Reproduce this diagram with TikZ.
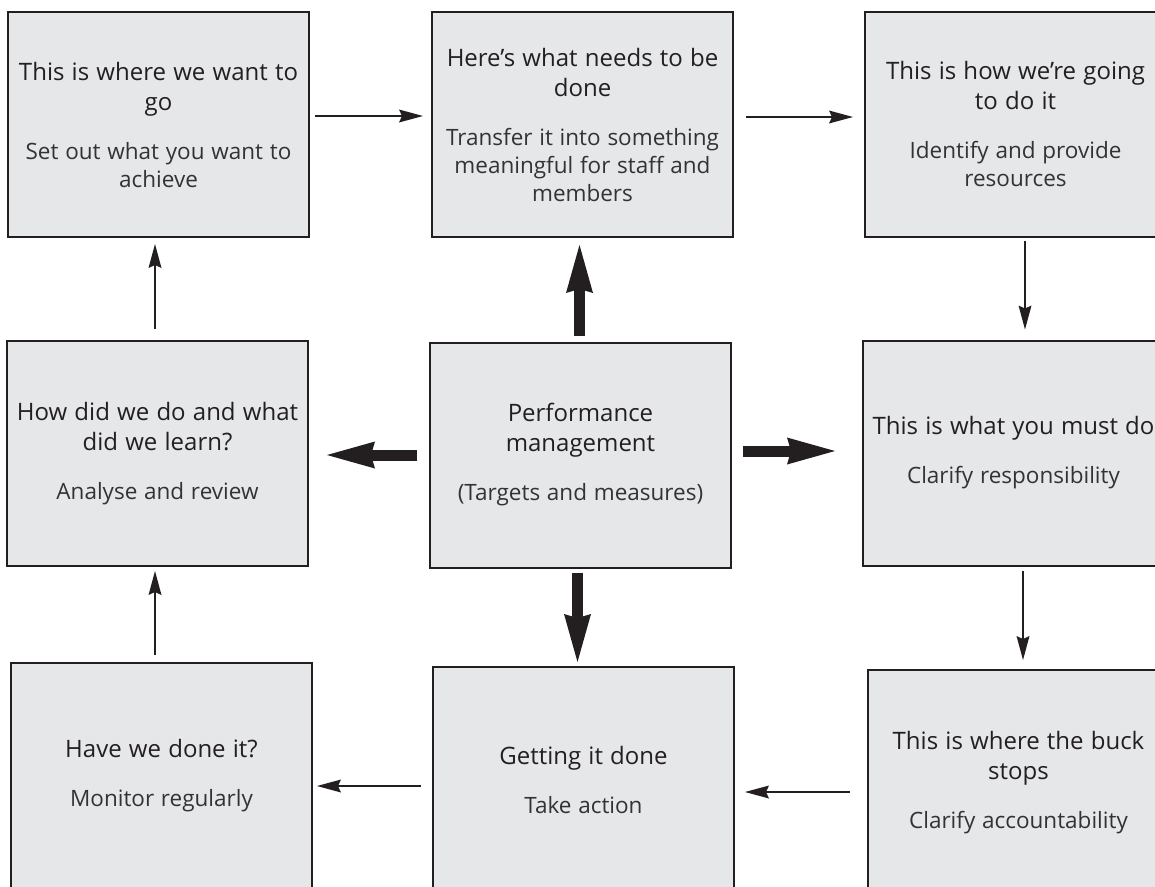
\documentclass[tikz,border=0pt]{standalone}
\usepackage{fontspec}
\setmainfont{Open Sans}
\usetikzlibrary{arrows.meta}
\definecolor{ink}{HTML}{231F20}
\definecolor{boxfill}{HTML}{E6E7E8}
\definecolor{subink}{HTML}{333333}
\newcommand{\ttl}{\fontsize{24}{30}\selectfont\spaceskip=0.3em\relax}
\newcommand{\sbt}{\fontsize{22.5}{28}\selectfont\spaceskip=0.3em\relax\noindent\color{subink}}
\newcommand{\gapv}{\par\vspace{21pt}}
\begin{document}
\begin{tikzpicture}[x=1pt,y=-1pt,
  box/.style={draw=ink, line width=2pt, fill=boxfill, text=ink,
    minimum width=301pt, minimum height=225pt, text width=297pt,
    align=center, inner sep=0pt, outer sep=0pt},
  thinarrow/.style={draw=ink, line width=2pt,
    -{Stealth[length=24pt,width=13pt,inset=3pt,line width=0pt]}},
  thickarrow/.style={draw=ink, line width=11pt,
    -{Stealth[length=48pt,width=27pt,inset=4pt,line width=0pt]}}
]
\useasboundingbox (0,0) rectangle (1155,886);
\clip (0,0) rectangle (1155,886);
\fill[white] (0,0) rectangle (1155,886);

\node[box] (a) at (158.5,124.5) {\ttl This is where we want to\\go\gapv\sbt Set out what you want to\\achieve\par};
\node[box] (b) at (582.5,124.5) {\ttl Here’s what needs to be\\done\gapv\sbt Transfer it into something\\meaningful for staff and\\members\par};
\node[box] (c) at (1015.5,124) {\ttl This is how we’re going\\to do it\gapv\sbt Identify and provide\\resources\par};
\node[box] (d) at (157.5,453.5) {\ttl How did we do and what\\did we learn?\gapv\sbt Analyse and review\par};
\node[box] (e) at (580.5,455) {\ttl Performance\\management\gapv\sbt (Targets and measures)\par};
\node[box] (f) at (1013.5,453) {\ttl This is what you must do\gapv\sbt Clarify responsibility\par};
\node[box] (g) at (161.5,775.5) {\ttl Have we done it?\gapv\sbt Monitor regularly\par};
\node[box] (h) at (583.5,779.5) {\ttl Getting it done\gapv\sbt Take action\par};
\node[box] (i) at (1018.5,782.5) {\ttl This is where the buck\\stops\gapv\sbt Clarify accountability\par};

\draw[thinarrow] ([xshift=6pt,yshift=8.5pt]a.east) -- ([xshift=-9pt,yshift=8.5pt]b.west);
\draw[thinarrow] ([xshift=13pt,yshift=7.5pt]b.east) -- ([xshift=-12pt,yshift=7pt]c.west);
\draw[thinarrow] ([xshift=9.5pt,yshift=-4pt]c.south) -- ([xshift=11.5pt,yshift=11pt]f.north);
\draw[thinarrow] ([xshift=9.5pt,yshift=-5pt]f.south) -- ([xshift=4.5pt,yshift=10pt]i.north);
\draw[thinarrow] ([xshift=-18pt,yshift=-9.5pt]i.west) -- ([xshift=11pt,yshift=-12.5pt]h.east);
\draw[thinarrow] ([xshift=-12pt,yshift=-6.5pt]h.west) -- ([xshift=5pt,yshift=-10.5pt]g.east);
\draw[thinarrow] ([xshift=-6.5pt,yshift=8pt]g.north) -- ([xshift=-2.5pt,yshift=-5pt]d.south);
\draw[thinarrow] ([xshift=-2.5pt,yshift=12pt]d.north) -- ([xshift=-3.5pt,yshift=-7pt]a.south);

\draw[thickarrow] ([xshift=-1pt,yshift=7pt]e.north) -- ([xshift=-3pt,yshift=-8pt]b.south);
\draw[thickarrow] ([xshift=-3pt,yshift=-5pt]e.south) -- ([xshift=-6pt,yshift=5pt]h.north);
\draw[thickarrow] ([xshift=-13pt]e.west) -- ([xshift=19pt,yshift=-1.5pt]d.east);
\draw[thickarrow] ([xshift=12pt,yshift=4pt]e.east) -- ([xshift=-28pt,yshift=2pt]f.west);
\end{tikzpicture}
\end{document}
